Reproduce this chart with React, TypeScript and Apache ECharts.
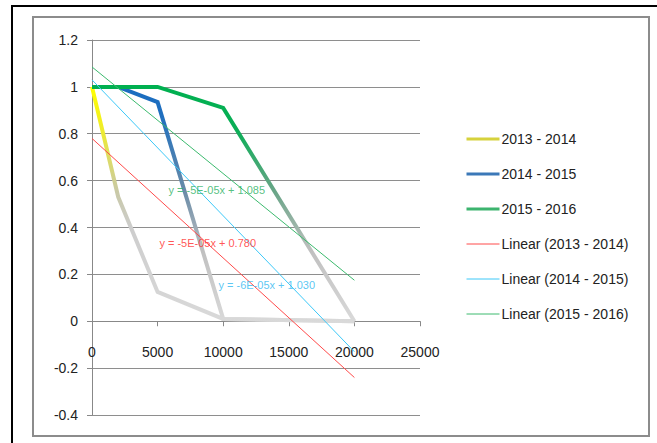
import React, { useEffect, useRef } from "react";
import * as echarts from "echarts";

const xValues = [0, 2000, 5000, 10000, 20000];
const s1314 = [1, 0.53, 0.125, 0.01, 0];
const s1415 = [1, 1, 0.935, 0.01, 0];
const s1516 = [1, 1, 1, 0.91, 0];

const trend1314 = [[0, 0.78], [20000, -0.24]];
const trend1415 = [[0, 1.03], [20000, -0.13]];
const trend1516 = [[0, 1.085], [20000, 0.175]];

const seriesNames = ["2013 - 2014", "2014 - 2015", "2015 - 2016"];
const trendNames = ["Linear (2013 - 2014)", "Linear (2014 - 2015)", "Linear (2015 - 2016)"];
const equationTexts = ["y = -5E-05x + 0.780", "y = -6E-05x + 1.030", "y = -5E-05x + 1.085"];
const equationAnchors = [[5100, 0.333], [9600, 0.154], [5790, 0.56]];

const Y_MIN = -0.4;
const Y_MAX = 1.2;
const GRID_TOP = 40;
const GRID_BOTTOM = 28;
const CHART_H = 443;

const FONT = "'Liberation Sans Narrow', 'Arial Narrow', 'Liberation Sans', sans-serif";

function grad(stops: [number, string][]) {
  return new echarts.graphic.LinearGradient(0, 0, 0, 1, stops.map(([offset, color]) => ({ offset, color })));
}

export default function App() {
  const ref = useRef<HTMLDivElement>(null);
  useEffect(() => {
    if (!ref.current) return;
    const chart = echarts.init(ref.current, null, { renderer: "svg" });
    const pair = (ys: number[]) => xValues.map((x, i) => [x, ys[i]]);
    const mainColors = [
      grad([[0, "#ffff00"], [0.15, "#f2f020"], [0.45, "#c9c9a8"], [0.6, "#cdcdcd"], [1, "#d9d9d9"]]),
      grad([[0, "#1a6dc0"], [0.12, "#1f6fbf"], [0.45, "#6a8ca8"], [0.7, "#c0c0c0"], [1, "#d9d9d9"]]),
      grad([[0, "#00b050"], [0.18, "#0aae56"], [0.45, "#6aa588"], [0.7, "#c0c0c0"], [1, "#d9d9d9"]]),
    ];
    const solid = ["#d6d23c", "#3b78b8", "#3cb46e"];
    const trendColors = ["#ff4a4a", "#3cc8f8", "#3cba6e"];
    const eqColors = ["#ff2a2a", "#30b8f0", "#28b060"];
    const mainData = [s1314, s1415, s1516];
    const trends = [trend1314, trend1415, trend1516];

    // distance of the y=0 line above the bottom of the grid
    const gridH = CHART_H - GRID_TOP - GRID_BOTTOM;
    const zeroOffset = (-Y_MIN / (Y_MAX - Y_MIN)) * gridH;

    const series: any[] = [];
    mainData.forEach((d, i) => {
      series.push({
        name: seriesNames[i],
        type: "line",
        data: pair(d),
        symbol: "none",
        lineStyle: { width: 4, color: mainColors[i], cap: "butt", join: "miter" },
        itemStyle: { color: solid[i] },
        z: 2,
      });
    });
    trends.forEach((t, i) => {
      series.push({
        name: trendNames[i],
        type: "line",
        data: t,
        symbol: "none",
        lineStyle: { width: 1, color: trendColors[i] },
        itemStyle: { color: trendColors[i] },
        z: 3,
      });
    });
    equationAnchors.forEach((a, i) => {
      series.push({
        type: "scatter",
        data: [a],
        symbolSize: 1,
        itemStyle: { color: "rgba(0,0,0,0)" },
        silent: true,
        label: {
          show: true,
          position: "right",
          distance: 0,
          formatter: equationTexts[i],
          color: eqColors[i],
          fontFamily: FONT,
          fontSize: 11,
        },
        z: 4,
      });
    });

    chart.setOption({
      animation: false,
      backgroundColor: "#ffffff",
      grid: { left: 92, right: 237, top: GRID_TOP, bottom: GRID_BOTTOM },
      xAxis: {
        type: "value",
        min: 0,
        max: 25000,
        interval: 5000,
        position: "bottom",
        offset: -zeroOffset,
        axisLine: { show: true, onZero: false, lineStyle: { color: "#888888", width: 1 } },
        axisTick: { show: true, length: 5, lineStyle: { color: "#888888" } },
        splitLine: { show: false },
        axisLabel: {
          margin: 24,
          color: "#222",
          fontFamily: FONT,
          fontSize: 14,
          formatter: (v: number) => String(v),
        },
      },
      yAxis: {
        type: "value",
        min: Y_MIN,
        max: Y_MAX,
        interval: 0.2,
        axisLine: { show: true, onZero: false, lineStyle: { color: "#888888", width: 1 } },
        axisTick: { show: true, length: 5, lineStyle: { color: "#888888" } },
        splitLine: { show: true, lineStyle: { color: "#8e8e8e", width: 1 } },
        axisLabel: {
          margin: 14,
          color: "#222",
          fontFamily: FONT,
          fontSize: 14,
          formatter: (v: number) => String(Number(v.toFixed(1))),
        },
      },
      legend: {
        orient: "vertical",
        left: 465,
        top: 132,
        padding: 0,
        itemWidth: 33,
        itemHeight: 14,
        itemGap: 21,
        textStyle: { fontFamily: FONT, fontSize: 14, color: "#222", padding: [0, 0, 0, -3] },
        data: [
          ...seriesNames.map((n, i) => ({ name: n, itemStyle: { opacity: 0 }, lineStyle: { color: solid[i], width: 3 } })),
          ...trendNames.map((n, i) => ({ name: n, itemStyle: { opacity: 0 }, lineStyle: { color: trendColors[i], width: 1 } })),
        ],
      },
      graphic: [
        {
          type: "rect",
          shape: { x: 12, y: 6, width: 700, height: 500 },
          style: { fill: "none", stroke: "#000000", lineWidth: 2 },
          silent: true,
        },
        {
          type: "rect",
          shape: { x: 33, y: 17, width: 616, height: 419 },
          style: { fill: "none", stroke: "#8c8c8c", lineWidth: 2 },
          silent: true,
        },
      ],
      series,
    });
    return () => chart.dispose();
  }, []);
  return (
    <div
      ref={ref}
      style={{ position: "fixed", left: 0, top: 0, width: 657, height: 443, background: "#fff" }}
    />
  );
}
